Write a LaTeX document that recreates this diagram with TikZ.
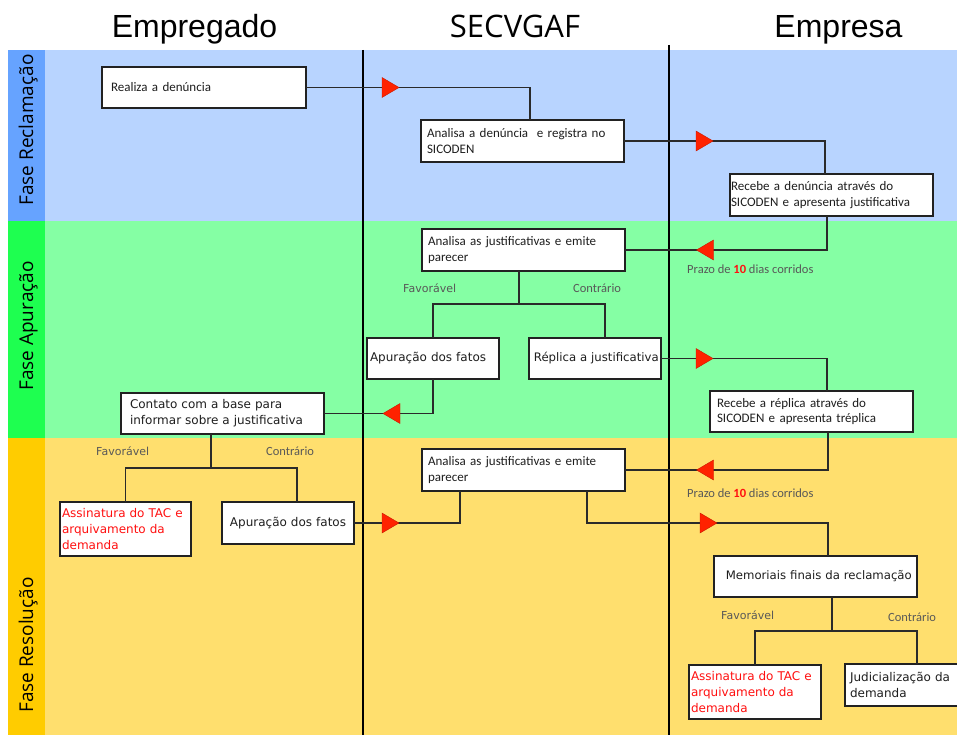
\documentclass[tikz,border=0pt]{standalone}
\usepackage{fontspec}
\setmainfont{Carlito}
\newfontfamily\calf{Carlito}
\newfontfamily\verf{DejaVu Sans}
\newfontfamily\arif{Liberation Sans}
\newfontfamily\opsf{Open Sans}
\definecolor{bandblue}{HTML}{B8D4FF}
\definecolor{stripblue}{HTML}{66A3FF}
\definecolor{bandgreen}{HTML}{85FFA4}
\definecolor{stripgreen}{HTML}{1EFF50}
\definecolor{bandyellow}{HTML}{FFDF6E}
\definecolor{stripyellow}{HTML}{FFCC00}
\definecolor{boxline}{HTML}{222222}
\definecolor{boxtext}{HTML}{1E1E1E}
\definecolor{connline}{HTML}{2A2A2A}
\definecolor{labelgray}{HTML}{585858}
\definecolor{trired}{HTML}{FF2200}
\definecolor{tridark}{HTML}{C81A00}
\definecolor{alertred}{HTML}{FF1010}
\tikzset{
  box/.style={draw=boxline, line width=1.3pt, fill=white, rectangle, anchor=north west,
    inner ysep=0pt, outer sep=0pt, align=left, text=boxtext},
  cal/.style={font=\calf\fontsize{13}{15.5}\selectfont},
  ver/.style={font=\verf\fontsize{12}{16}\selectfont},
  conn/.style={draw=connline, line width=1.2pt},
  lane/.style={draw=black, line width=1.4pt},
  lblver/.style={text=labelgray, inner sep=0pt, anchor=west, font=\verf\fontsize{11}{13}\selectfont},
  lblcal/.style={text=labelgray, inner sep=0pt, anchor=west, font=\calf\fontsize{12.5}{14}\selectfont},
  phase/.style={rotate=90, anchor=base, inner sep=0pt, text=black, font=\opsf\fontsize{19}{22}\selectfont},
  title/.style={anchor=base, inner sep=0pt, text=black},
  tri/.pic={\fill[trired, draw=tridark, line width=0.4pt] (-8.5,-10) -- (8.5,0) -- (-8.5,10) -- cycle;}
}
\begin{document}
\begin{tikzpicture}[x=1pt,y=-1pt]
\useasboundingbox (0,0) rectangle (957,735);
\fill[white] (0,0) rectangle (957,735);
% bands
\fill[bandblue] (45,50) rectangle (957,221);
\fill[stripblue] (8,50) rectangle (45,221);
\fill[bandgreen] (45,221) rectangle (957,438);
\fill[stripgreen] (8,221) rectangle (45,438);
\fill[bandyellow] (45,438) rectangle (957,735);
\fill[stripyellow] (8,438) rectangle (45,735);
% titles
\node[title, font=\arif\fontsize{32}{32}\selectfont] (tEmp) at (194.5,38) {Empregado};
\node[title, font=\opsf\fontsize{31}{31}\selectfont] (tSec) at (515,37.5) {SECVGAF};
\node[title, font=\arif\fontsize{32}{32}\selectfont] (tEmpr) at (838.5,38) {Empresa};
% phase labels
\node[phase] (pRec) at (33,130) {Fase Reclamação};
\node[phase] (pApu) at (33,326) {Fase Apuração};
\node[phase] (pRes) at (33,645) {Fase Resolução};
% lanes
\draw[lane] (363,50) -- (363,735);
\draw[lane] (669,45) -- (669,735);
% boxes
\node[box, cal, minimum height=41pt, text width=186pt, inner xsep=9pt] (b1) at (102,67) {Realiza a denúncia};
\node[box, cal, minimum height=42pt, text width=191pt, inner xsep=6pt] (b2) at (421,120) {Analisa a denúncia\ \ e registra no\\SICODEN};
\node[box, cal, minimum height=42pt, text width=201pt, inner xsep=1pt] (b3) at (730,174) {Recebe a denúncia através do\\SICODEN e apresenta justificativa};
\node[box, cal, minimum height=42pt, text width=191pt, inner xsep=6pt] (b4) at (422,229) {Analisa as justificativas e emite\\parecer};
\node[box, ver, minimum height=41pt, text width=126pt, inner xsep=3pt] (b5) at (367,338) {Apuração dos fatos};
\node[box, ver, minimum height=41pt, text width=130pt, inner xsep=1pt, font=\verf\fontsize{11.7}{16}\selectfont] (b6) at (529,338) {\ Réplica a justificativa};
\node[box, ver, minimum height=41pt, text width=185pt, inner xsep=9pt] (b7) at (121,393) {Contato com a base para\\informar sobre a justificativa};
\node[box, cal, minimum height=41pt, text width=189pt, inner xsep=7pt] (b8) at (710,391) {Recebe a réplica através do\\SICODEN e apresenta tréplica};
\node[box, cal, minimum height=42pt, text width=191pt, inner xsep=6pt] (b9) at (422,449) {Analisa as justificativas e emite\\parecer};
\node[box, ver, minimum height=54pt, text width=127pt, inner xsep=2pt, text=alertred] (b10) at (60,502) {Assinatura do TAC e\\arquivamento da\\demanda};
\node[box, ver, minimum height=42pt, text width=128pt, inner xsep=2pt, align=center] (b11) at (222,502) {Apuração dos fatos};
\node[box, ver, minimum height=41pt, text width=195pt, inner xsep=4pt, font=\verf\fontsize{11.7}{16}\selectfont] (b12) at (714,556) {\ \ Memoriais finais da reclamação};
\node[box, ver, minimum height=54pt, text width=128pt, inner xsep=2pt, text=alertred] (b13) at (689,665) {Assinatura do TAC e\\arquivamento da\\demanda};
\node[box, ver, minimum height=42pt, text width=105pt, inner xsep=5pt] (b14) at (845,664) {Judicialização da\\demanda};
% junction coordinates
\coordinate (j1) at (519,304);
\coordinate (j2) at (211,468);
\coordinate (j3) at (587,523);
\coordinate (j4) at (832,631);
% connectors
\draw[conn] (b1.east) -| ([xshift=7.5pt]b2.north);
\draw[conn] (b2.east) -| ([xshift=-6.5pt]b3.north);
\draw[conn] ([xshift=-4.5pt]b3.south) |- (b4.east);
\draw[conn] ([xshift=-4.5pt]b4.south) -- (j1);
\draw[conn] (b5.north) |- (j1) -| ([xshift=10pt]b6.north);
\draw[conn] (b5.south) |- (b7.east);
\draw[conn] (b6.east) -| ([xshift=15.5pt]b8.north);
\draw[conn] ([xshift=16.5pt]b8.south) |- (b9.east);
\draw[conn] ([xshift=-11.5pt]b7.south) -- (j2);
\draw[conn] (b10.north) |- (j2) -| ([xshift=9pt]b11.north);
\draw[conn] (b11.east) -| ([xshift=-63.5pt]b9.south);
\draw[conn] ([xshift=63.5pt]b9.south) -- (j3) -| ([xshift=12.5pt]b12.north);
\draw[conn] ([xshift=16.5pt]b12.south) -- (j4);
\draw[conn] (b13.north) |- (j4) -| ([xshift=14.5pt]b14.north);
% arrow triangles
\pic at (390.5,87.5) {tri};
\pic at (704.5,141) {tri};
\pic[rotate=180] at (705,250) {tri};
\pic[rotate=180] at (391.5,413.5) {tri};
\pic at (704.5,358.5) {tri};
\pic[rotate=180] at (705,470) {tri};
\pic at (390.5,523) {tri};
\pic at (708.5,523) {tri};
% labels
\node[lblcal] (pz1) at (687,269) {Prazo de \textcolor{alertred}{\bfseries 10} dias corridos};
\node[lblcal] (pz2) at (687,493) {Prazo de \textcolor{alertred}{\bfseries 10} dias corridos};
\node[lblver] (f1) at (403,288) {Favorável};
\node[lblcal] (c1) at (573,288) {Contrário};
\node[lblver] (f2) at (96,451) {Favorável};
\node[lblcal] (c2) at (266,451) {Contrário};
\node[lblver] (f3) at (721,615) {Favorável};
\node[lblcal] (c3) at (888,617) {Contrário};
\end{tikzpicture}
\end{document}
